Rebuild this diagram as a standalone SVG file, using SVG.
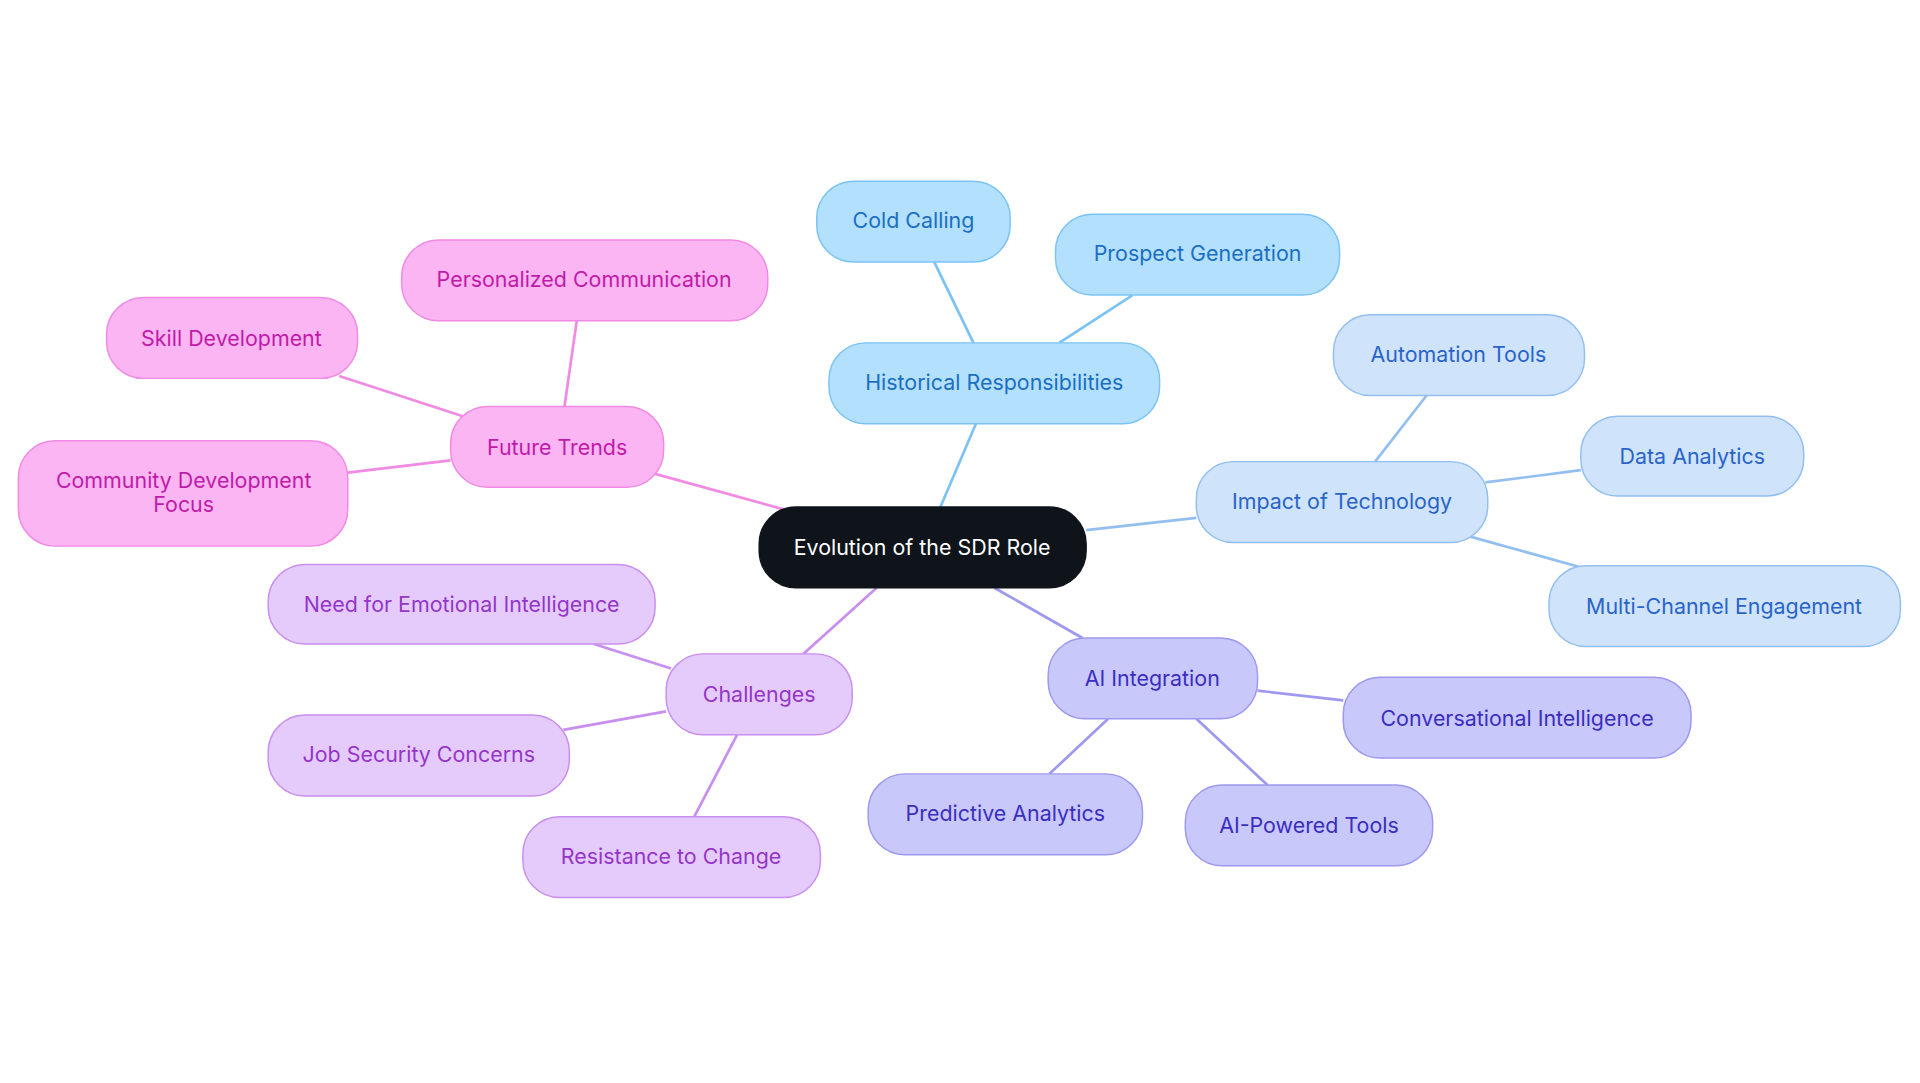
<svg xmlns="http://www.w3.org/2000/svg" width="1920" height="1083" viewBox="0 0 1920 1083">
<style>
text{font-family:Inter,"Noto Sans",sans-serif;font-size:17.5px;text-anchor:middle;dominant-baseline:central}
rect{stroke-width:1.2}
.c rect{fill:#0f141b;stroke:#0f141b}.c text{fill:#fff}
.h rect{fill:#b3e0fd;stroke:#7cc3f5}.h text{fill:#1b6fc2}
.t rect{fill:#cfe3fb;stroke:#93bff0}.t text{fill:#2a64c8}
.a rect{fill:#c9c8fb;stroke:#9d98f0}.a text{fill:#3a2ec0}
.g rect{fill:#e5cbfb;stroke:#c88ef0}.g text{fill:#9436c8}
.f rect{fill:#fcb5f3;stroke:#f08ae3}.f text{fill:#c01ba8}
#edges line{stroke-width:2.2}
</style>
<rect width="1920" height="1083" fill="#fff"/>
<g transform="scale(1.2245)">
<g id="edges">
<line x1="768" y1="414" x2="797" y2="346" stroke="#7cc3f5"/>
<line x1="795" y1="280" x2="763" y2="214" stroke="#7cc3f5"/>
<line x1="865" y1="280" x2="925" y2="241" stroke="#7cc3f5"/>
<line x1="887" y1="433" x2="977" y2="423" stroke="#93bff0"/>
<line x1="1123" y1="377" x2="1165" y2="323" stroke="#93bff0"/>
<line x1="1213" y1="394" x2="1291" y2="384" stroke="#93bff0"/>
<line x1="1200" y1="438" x2="1290" y2="463" stroke="#93bff0"/>
<line x1="812" y1="480" x2="884" y2="521" stroke="#9d98f0"/>
<line x1="1027" y1="564" x2="1097" y2="572" stroke="#9d98f0"/>
<line x1="905" y1="587" x2="857" y2="632" stroke="#9d98f0"/>
<line x1="977" y1="587" x2="1035" y2="641" stroke="#9d98f0"/>
<line x1="716" y1="480" x2="656" y2="534" stroke="#c88ef0"/>
<line x1="548" y1="546" x2="485" y2="526" stroke="#c88ef0"/>
<line x1="544" y1="581" x2="460" y2="596" stroke="#c88ef0"/>
<line x1="602" y1="600" x2="567" y2="667" stroke="#c88ef0"/>
<line x1="640" y1="416" x2="535" y2="387" stroke="#f08ae3"/>
<line x1="461" y1="332" x2="471" y2="262" stroke="#f08ae3"/>
<line x1="378" y1="340" x2="277" y2="307" stroke="#f08ae3"/>
<line x1="368" y1="376" x2="284" y2="386" stroke="#f08ae3"/>
</g>
<g id="center" class="c"><rect x="620" y="414" width="267" height="66" rx="30"/><text x="753" y="447">Evolution of the SDR Role</text></g>
<g id="hist" class="h"><rect x="677" y="280" width="270" height="66" rx="30"/><text x="812" y="312">Historical Responsibilities</text></g>
<g id="cold" class="h"><rect x="667" y="148" width="158" height="66" rx="30"/><text x="746" y="180">Cold Calling</text></g>
<g id="prospect" class="h"><rect x="862" y="175" width="232" height="66" rx="30"/><text x="978" y="207">Prospect Generation</text></g>
<g id="impact" class="t"><rect x="977" y="377" width="238" height="66" rx="30"/><text x="1096" y="409">Impact of Technology</text></g>
<g id="auto" class="t"><rect x="1089" y="257" width="205" height="66" rx="30"/><text x="1191" y="289">Automation Tools</text></g>
<g id="data" class="t"><rect x="1291" y="340" width="182" height="65" rx="30"/><text x="1382" y="372">Data Analytics</text></g>
<g id="multi" class="t"><rect x="1265" y="462" width="287" height="66" rx="30"/><text x="1408" y="495">Multi-Channel Engagement</text></g>
<g id="ai" class="a"><rect x="856" y="521" width="171" height="66" rx="30"/><text x="941" y="554">AI Integration</text></g>
<g id="conv" class="a"><rect x="1097" y="553" width="284" height="66" rx="30"/><text x="1239" y="586">Conversational Intelligence</text></g>
<g id="pred" class="a"><rect x="709" y="632" width="224" height="66" rx="30"/><text x="821" y="664">Predictive Analytics</text></g>
<g id="aitools" class="a"><rect x="968" y="641" width="202" height="66" rx="30"/><text x="1069" y="674">AI-Powered Tools</text></g>
<g id="chal" class="g"><rect x="544" y="534" width="152" height="66" rx="30"/><text x="620" y="567">Challenges</text></g>
<g id="emo" class="g"><rect x="219" y="461" width="316" height="65" rx="30"/><text x="377" y="493">Need for Emotional Intelligence</text></g>
<g id="job" class="g"><rect x="219" y="584" width="246" height="66" rx="30"/><text x="342" y="616">Job Security Concerns</text></g>
<g id="resist" class="g"><rect x="427" y="667" width="243" height="66" rx="30"/><text x="548" y="699">Resistance to Change</text></g>
<g id="future" class="f"><rect x="368" y="332" width="174" height="66" rx="30"/><text x="455" y="365">Future Trends</text></g>
<g id="pers" class="f"><rect x="328" y="196" width="299" height="66" rx="30"/><text x="477" y="228">Personalized Communication</text></g>
<g id="skill" class="f"><rect x="87" y="243" width="205" height="66" rx="30"/><text x="189" y="276">Skill Development</text></g>
<g id="comm" class="f"><rect x="15" y="360" width="269" height="86" rx="30"/><text x="150" y="392">Community Development</text><text x="150" y="412">Focus</text></g>
</g>
</svg>
